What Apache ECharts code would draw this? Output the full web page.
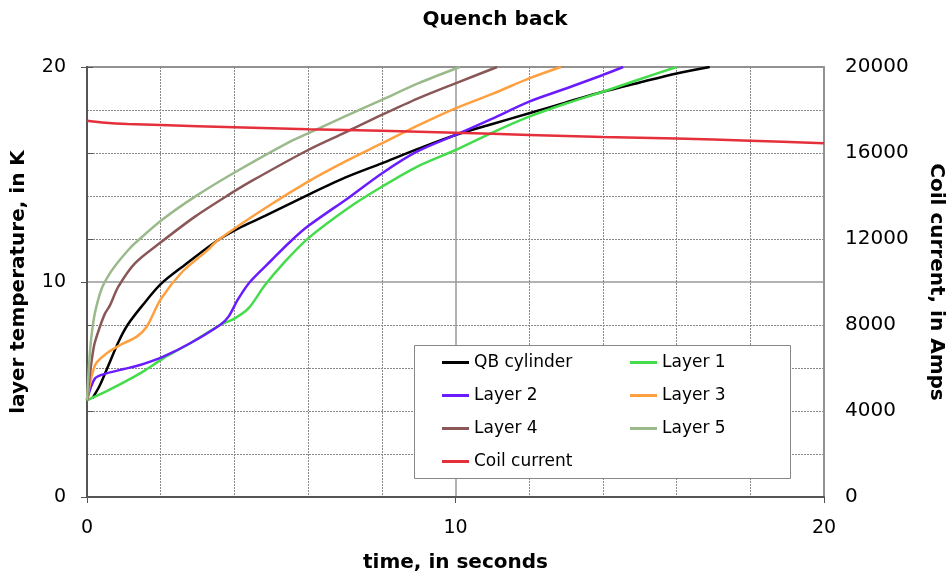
<!DOCTYPE html>
<html><head><meta charset="utf-8">
<script src="https://cdn.jsdelivr.net/npm/echarts@6/dist/echarts.min.js"></script>
<style>html,body{margin:0;padding:0;background:#fff}#c{width:946px;height:572px}</style>
</head><body><div id="c"></div>
<script>
// ---- data (time in s, temperature in K, current in A) ----
var qbT  = [0.15,0.35,0.6,0.85,1.1,1.5,2.0,2.66,3.56,4.2,4.83,6,7,8,9,10,11,12,13,14,15,16,16.9];
var qbV  = [4.6,5.2,6.2,7.2,8.0,8.9,9.9,10.8,11.95,12.57,13.07,14.05,14.85,15.52,16.2,16.84,17.35,17.85,18.35,18.85,19.28,19.7,20];
var l1T  = [0,0.6,1.44,2.07,2.8,3.61,4.0,4.38,4.83,5.33,6,7.14,8,8.95,10,11,12,13,14,15,16.0];
var l1V  = [4.5,4.98,5.75,6.45,7.15,8.0,8.3,8.77,9.86,10.87,12.03,13.5,14.43,15.36,16.14,16.95,17.69,18.3,18.85,19.43,20];
var l2T  = [0,0.22,0.53,1.0,1.44,2.07,2.8,3.61,3.84,4.1,4.42,5.0,5.5,6,7.14,8,8.95,10,11,12,13,14,14.55];
var l2V  = [4.5,5.52,5.75,5.95,6.14,6.53,7.15,8.0,8.39,9.2,10.0,11.0,11.85,12.6,13.97,15.05,16.06,16.84,17.6,18.39,19.0,19.63,20];
var l3T  = [0,0.22,0.53,0.9,1.35,1.62,2.0,2.6,3.25,3.56,4.83,6,7,8,9,10,11,12,12.86];
var l3V  = [4.5,6.14,6.68,7.07,7.46,7.92,9.2,10.5,11.45,11.95,13.43,14.67,15.6,16.45,17.3,18.08,18.75,19.47,20];
var l4T  = [0,0.1,0.2,0.35,0.49,0.62,0.85,1.3,2.03,2.93,3.84,4.47,6,7,8,9,10,11.13];
var l4V  = [4.5,6.0,7.1,7.92,8.54,8.9,9.78,10.87,11.88,13.04,14.05,14.7,16.14,16.95,17.77,18.55,19.24,20];
var l5T  = [0,0.07,0.13,0.22,0.4,0.62,0.85,1.12,1.3,2.03,2.93,3.97,5.51,6,7,8,9,10.12];
var l5V  = [4.5,6.5,7.61,8.6,9.7,10.4,10.94,11.49,11.8,12.88,13.97,15.06,16.53,16.91,17.7,18.47,19.25,20];
var ccT  = [0,0.5,1.1,2,4,5,6,8,10,12,14,16,18,20];
var ccV  = [17500,17410,17350,17300,17200,17150,17100,17040,16940,16840,16740,16670,16570,16450];
var seriesNames = ['QB cylinder','Layer 1','Layer 2','Layer 3','Layer 4','Layer 5','Coil current'];
var colors = ['#000000','#45dc4c','#6a1cff','#ffa040','#8a5757','#9bba8c','#e5303b'];

function pairs(t, v){ return t.map(function(x,i){ return [x, v[i]]; }); }
var sets = [pairs(qbT,qbV),pairs(l1T,l1V),pairs(l2T,l2V),pairs(l3T,l3V),pairs(l4T,l4V),pairs(l5T,l5V),pairs(ccT,ccV)];

var chart = echarts.init(document.getElementById('c'), null, {renderer:'canvas'});
var FONT = 'DejaVu Sans';
var series = seriesNames.map(function(n,i){
  return {
    name:n, type:'line', data:sets[i], yAxisIndex: i===6?1:0,
    showSymbol:false, symbol:'none', smooth:0.3, clip:true,
    lineStyle:{color:colors[i], width:2.5}, itemStyle:{color:colors[i]}
  };
});
chart.setOption({
  animation:false,
  backgroundColor:'#fff',
  title:{text:'Quench back', left:490, textAlign:'center', top:5,
         textStyle:{fontFamily:FONT, fontWeight:'bold', fontSize:20, color:'#000'}},
  grid:{left:87, right:122, top:67, bottom:75, containLabel:false, outerBoundsMode:'none',
        show:true, borderColor:'#555', borderWidth:1.5, backgroundColor:'transparent'},
  xAxis:{type:'value', min:0, max:20, interval:10,
    name:'time, in seconds', nameLocation:'middle', nameGap:56,
    nameTextStyle:{fontFamily:FONT, fontWeight:'bold', fontSize:20, color:'#000'},
    axisLine:{show:true, onZero:false, lineStyle:{color:'#555', width:2}},
    axisTick:{show:true, inside:false, length:6, lineStyle:{color:'#555'}},
    axisLabel:{margin:22, fontFamily:FONT, fontSize:19, color:'#000'},
    splitLine:{show:true, lineStyle:{color:'#999', width:1.5}},
    minorTick:{show:false, splitNumber:5},
    minorSplitLine:{show:true, lineStyle:{color:'#888', width:1, type:[2,1]}}
  },
  yAxis:[{type:'value', min:0, max:20, interval:10, position:'left',
    name:'layer temperature, in K', nameLocation:'middle', nameGap:58,
    nameTextStyle:{fontFamily:FONT, fontWeight:'bold', fontSize:20, color:'#000'},
    axisLine:{show:true, onZero:false, lineStyle:{color:'#555', width:2}},
    axisTick:{show:true, length:6, lineStyle:{color:'#555'}},
    axisLabel:{margin:21, fontFamily:FONT, fontSize:19, color:'#000'},
    splitLine:{show:true, lineStyle:{color:'#999', width:1.5}},
    minorTick:{show:false, splitNumber:5},
    minorSplitLine:{show:true, lineStyle:{color:'#888', width:1, type:[2,1]}}
  },{type:'value', min:0, max:20000, interval:4000, position:'right',
    name:'Coil current, in Amps', nameLocation:'middle', nameGap:102, nameRotate:-90,
    nameTextStyle:{fontFamily:FONT, fontWeight:'bold', fontSize:20, color:'#000'},
    axisLine:{show:true, lineStyle:{color:'#555', width:2}},
    axisTick:{show:true, length:6, lineStyle:{color:'#555'}},
    axisLabel:{margin:21, fontFamily:FONT, fontSize:20, color:'#000', formatter:function(v){return String(v);}},
    splitLine:{show:false}
  }],
  legend:{data:seriesNames, left:442, top:351, width:370, orient:'horizontal', z:20, padding:0,
    itemGap:10, itemWidth:27, itemHeight:3, icon:'rect',
    textStyle:{fontFamily:FONT, fontSize:17, color:'#000', width:146, lineHeight:23}},
  graphic:[{type:'rect', left:414, top:345, z:15,
    shape:{width:376, height:133}, style:{fill:'#fff', stroke:'#888', lineWidth:1}}],
  series:series
});
</script></body></html>
